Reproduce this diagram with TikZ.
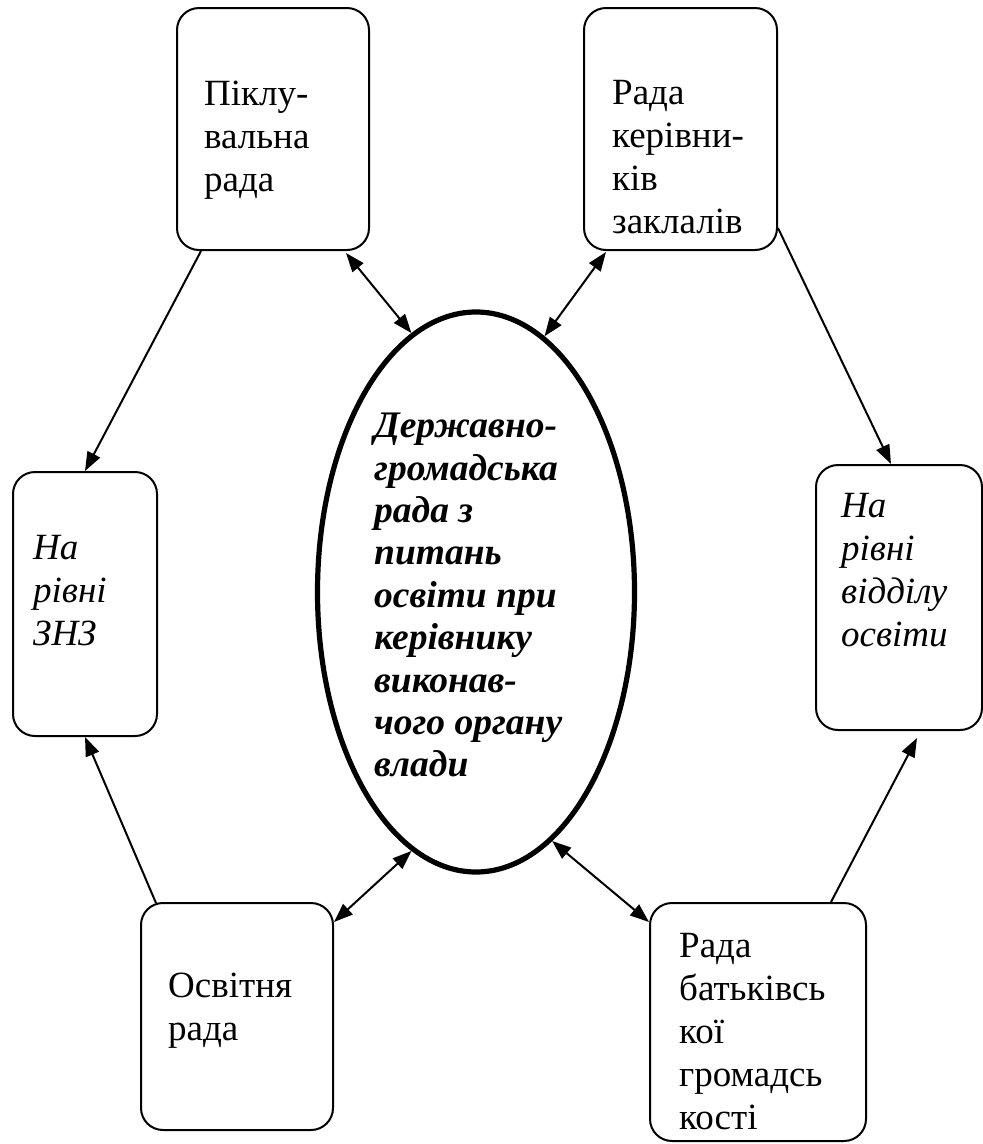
\documentclass[tikz,border=0pt]{standalone}
\usepackage{fontspec}
\setmainfont{Liberation Serif}
\usetikzlibrary{arrows.meta, shapes.geometric}

\begin{document}
\begin{tikzpicture}[
  x=1pt, y=-1pt,
  panel/.style={rectangle, draw, line width=2pt, rounded corners=22pt,
                inner sep=0pt},
  txt/.style={anchor=north west, inner sep=0pt, align=left,
              font=\fontsize{37}{43}\selectfont},
  link/.style={line width=2pt, -{Triangle[length=19pt,width=14pt]}},
  twoway/.style={line width=2pt,
                 {Triangle[length=19pt,width=14pt]}-{Triangle[length=19pt,width=14pt]}}
]
\useasboundingbox (0,0) rectangle (983,1144);

% central council
\node[ellipse, draw, line width=5.2pt, inner sep=0pt,
      minimum width=317pt, minimum height=560pt] (dgr) at (476,592) {};
\node[txt, font=\fontsize{37.5}{42.4}\selectfont\bfseries\itshape] (dgrT) at (374,413)
  {Державно-\\громадська\\рада з\\питань\\освіти при\\керівнику\\виконав-\\чого органу\\влади};

% top row
\node[panel, minimum width=192pt, minimum height=242pt] (pikl) at (273,129) {};
\node[txt] (piklT) at (204,81) {Піклу-\\вальна\\рада};
\node[panel, minimum width=193pt, minimum height=242pt] (kerivn) at (680.5,129) {};
\node[txt] (kerivnT) at (612,80) {Рада\\керівни-\\ків\\заклалів};

% level boxes
\node[panel, minimum width=144pt, minimum height=264pt] (znz) at (85,604) {};
\node[txt, font=\fontsize{37}{43}\selectfont\itshape] (znzT) at (33,535) {На\\рівні\\ЗНЗ};
\node[panel, minimum width=166pt, minimum height=265pt] (viddil) at (899,597.5) {};
\node[txt, font=\fontsize{37}{43}\selectfont\itshape] (viddilT) at (841,493)
  {На\\рівні\\відділу\\освіти};

% bottom row
\node[panel, minimum width=192pt, minimum height=227pt] (osvit) at (237,1016.5) {};
\node[txt] (osvitT) at (168,973) {Освітня\\рада};
\node[panel, minimum width=216pt, minimum height=238pt] (batk) at (758,1022) {};
\node[txt] (batkT) at (679,933) {Рада\\батьківсь\\кої\\громадсь\\кості};

% one-way links
\draw[link] ([shift={(25,0)}]pikl.south west) -- (znz.north);
\draw[link] ([shift={(0,-23)}]kerivn.south east) -- ([shift={(-8,0)}]viddil.north);
\draw[link] ([shift={(16,1)}]osvit.north west) -- (znz.south);
\draw[link] ([shift={(-36,0)}]batk.north east) -- ([shift={(18,7)}]viddil.south);

% two-way links
\draw[twoway] ([shift={(-24,2)}]pikl.south east) -- (dgr.104);
\draw[twoway] ([shift={(23,1)}]kerivn.south west) -- (dgr.75);
\draw[twoway] ([shift={(0,20)}]osvit.north east) -- (dgr.256);
\draw[twoway] ([shift={(0,20)}]batk.north west) -- (dgr.287);

\end{tikzpicture}
\end{document}
